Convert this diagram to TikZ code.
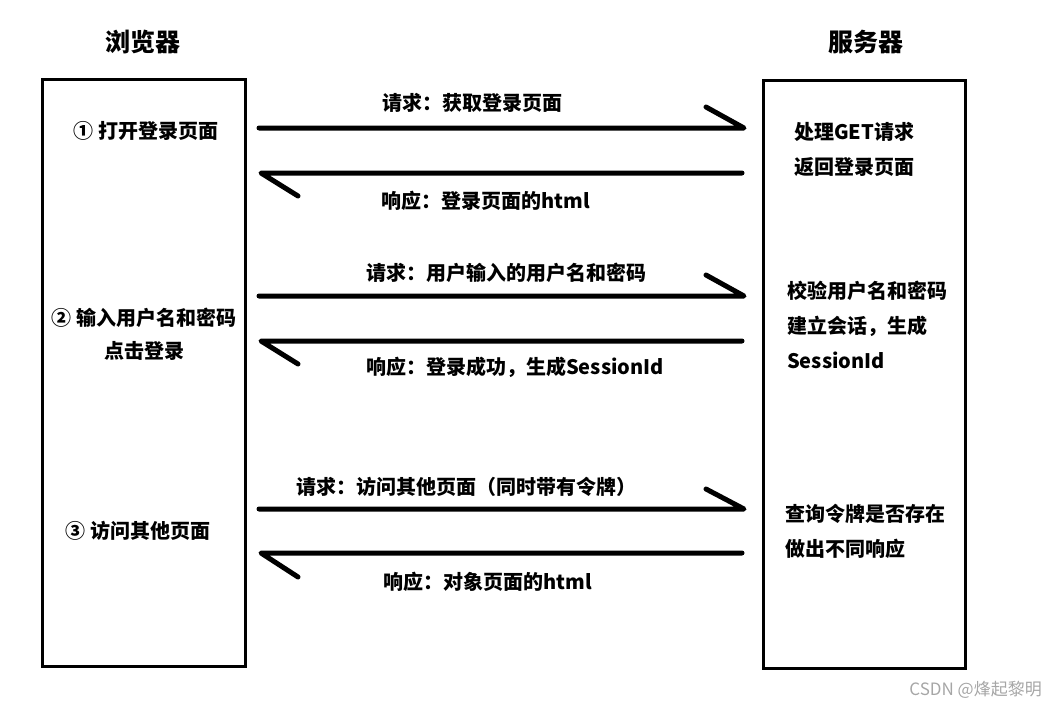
\documentclass[tikz,border=0pt]{standalone}
\usepackage{fontspec}
\newfontfamily\cjk{Noto Sans CJK SC}
\begin{document}
\begin{tikzpicture}[x=1pt, y=-1pt,
    box/.style={draw, line width=3pt},
    msg/.style={line width=5pt, line cap=round, line join=round},
    txt/.style={font=\cjk\bfseries\fontsize{20}{24}\selectfont, inner sep=0pt},
    title/.style={font=\cjk\bfseries\fontsize{25}{30}\selectfont, inner sep=0pt}]
                \useasboundingbox (0,0) rectangle (1057,709);
                \path (259,128) coordinate (A1);
                \path (744,128) coordinate (B1);
                \path (742,173) coordinate (C1);
                \path (261,173) coordinate (D1);
                \path (259,296) coordinate (A2);
                \path (744,296) coordinate (B2);
                \path (742,341) coordinate (C2);
                \path (261,341) coordinate (D2);
                \path (259,509) coordinate (A3);
                \path (744,509) coordinate (B3);
                \path (742,553) coordinate (C3);
                \path (261,553) coordinate (D3);
                \draw[box] (42,79) rectangle (245,666);
                \draw[box] (763,80) rectangle (965,668);
                \node[title] (browser) at (143,42) {浏览器};
                \node[title] (server) at (866,42) {服务器};
                \draw[msg] (A1) -- (B1) -- ++(-38,-21);
                \draw[msg] (C1) -- (D1) -- ++(37,23);
                \draw[msg] (A2) -- (B2) -- ++(-38,-21);
                \draw[msg] (C2) -- (D2) -- ++(37,23);
                \draw[msg] (A3) -- (B3) -- ++(-38,-20);
                \draw[msg] (C3) -- (D3) -- ++(37,24);
                \node[txt] (req1) at (472,103) {请求：获取登录页面};
                \node[txt] (res1) at (486,201) {响应：登录页面的html};
                \node[txt] (req2) at (506,273) {请求：用户输入的用户名和密码};
                \node[txt] (res2) at (515,367) {响应：登录成功，生成SessionId};
                \node[txt] (req3) at (466,487) {请求：访问其他页面（同时带有令牌）};
                \node[txt] (res3) at (488,582) {响应：对象页面的html};
                \node[txt] (step1) at (146,131) {① 打开登录页面};
                \node[txt] (step2) at (144,318) {② 输入用户名和密码};
                \node[txt] (step2b) at (144,351) {点击登录};
                \node[txt] (step3) at (138,531) {③ 访问其他页面};
                \node[txt, anchor=west] (srv1) at (794,132) {处理GET请求};
                \node[txt, anchor=west] (srv1b) at (794,167) {返回登录页面};
                \node[txt, anchor=west] (srv2) at (787,291) {校验用户名和密码};
                \node[txt, anchor=west] (srv2b) at (787,326) {建立会话，生成};
                \node[txt, anchor=west] (srv2c) at (787,360) {SessionId};
                \node[txt, anchor=west] (srv3) at (785,514) {查询令牌是否存在};
                \node[txt, anchor=west] (srv3b) at (785,549) {做出不同响应};
                \node[font=\cjk\fontsize{17}{20}\selectfont, text=gray!70, inner sep=0pt, anchor=east] (mark) at (1042,690) {CSDN @烽起黎明};
            \end{tikzpicture}
\end{document}
